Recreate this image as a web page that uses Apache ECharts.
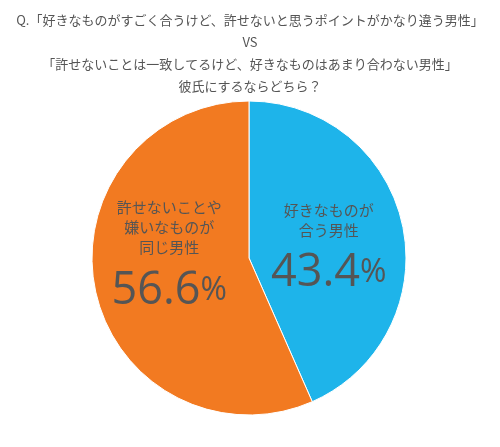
<!DOCTYPE html>
<html><head><meta charset="utf-8">
<script src="https://cdn.jsdelivr.net/npm/echarts@6/dist/echarts.min.js"></script>
<style>html,body{margin:0;padding:0;background:#fff}#c{width:500px;height:447px}</style>
</head><body><div id="c"></div>
<script>
const titleLines = ["Q.「好きなものがすごく合うけど、許せないと思うポイントがかなり違う男性」","VS","「許せないことは一致してるけど、好きなものはあまり合わない男性」","彼氏にするならどちら？"];
const categories = ["好きなものが\n合う男性","許せないことや\n嫌いなものが\n同じ男性"];
const values = [43.4, 56.6];
const colors = ["#1EB4EA","#F27A21"];
const offsets = [[0,12],[0,-14]];
const chart = echarts.init(document.getElementById('c'));
chart.setOption({
  animation:false,
  title:{text:titleLines.join('\n'),left:'center',top:4,textStyle:{fontSize:13,fontWeight:'normal',color:'#555',lineHeight:22,fontFamily:'Noto Sans CJK JP'}},
  series:[{type:'pie',center:[249,258],radius:[0,157],startAngle:90,clockwise:true,
    data:categories.map((n,i)=>({name:n,value:values[i],itemStyle:{color:colors[i]},label:{offset:offsets[i]}})),
    label:{position:'inside',color:'#555',fontFamily:'Noto Sans CJK JP',
      formatter:p=>'{n|'+p.name+'}\n{v|'+p.value.toFixed(1)+'}{p|%}',
      rich:{n:{fontSize:15,lineHeight:20,color:'#555',fontFamily:'Noto Sans CJK JP'},
            v:{fontSize:45,lineHeight:66,color:'#555',fontFamily:'Open Sans'},
            p:{fontSize:32,lineHeight:66,color:'#555',fontFamily:'Open Sans'}}},
    labelLine:{show:false},itemStyle:{borderColor:'#fff',borderWidth:1}}]
});
</script></body></html>
